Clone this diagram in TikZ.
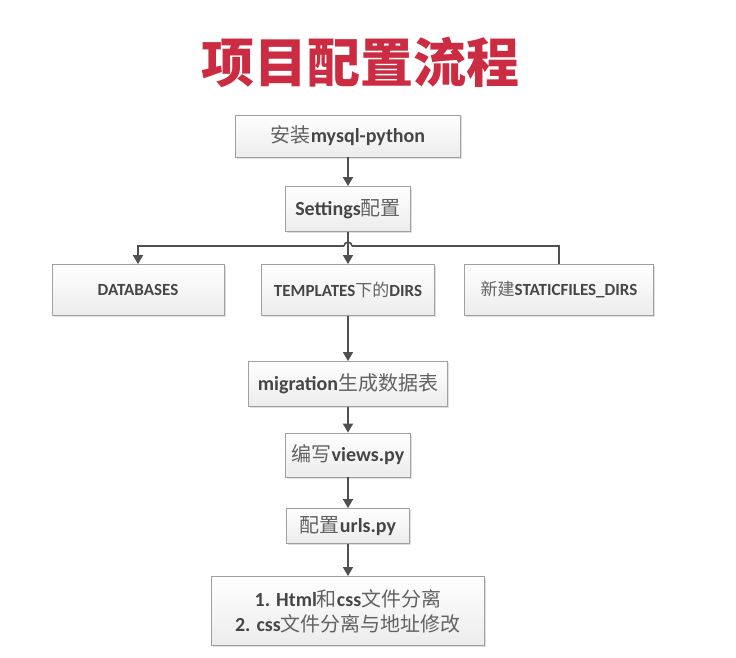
\documentclass[tikz,border=0pt]{standalone}
\usepackage{fontspec}
\setmainfont{Carlito}
\newfontfamily\cjk{Noto Sans CJK SC}
\usetikzlibrary{arrows.meta,shadows}
\definecolor{titlered}{RGB}{204,44,66}
\definecolor{boxgray}{RGB}{160,160,160}
\definecolor{textgray}{RGB}{70,70,70}
\definecolor{linegray}{RGB}{80,80,80}
\newcommand{\zh}[1]{{\cjk\mdseries\color{textgray!85} #1}}

\begin{document}
\begin{tikzpicture}[x=1pt,y=-1pt]

\tikzset{
box/.style={rectangle,inner sep=0pt,draw=boxgray,line width=0.8pt,top color=white,bottom color=gray!15,drop shadow={shadow xshift=1.5pt,shadow yshift=-1.5pt,opacity=0.25},font=\fontsize{20}{25}\selectfont\bfseries,text=textgray},
rowbox/.style={box,minimum height=51pt,font=\fontsize{17}{20}\selectfont\bfseries},
line/.style={draw=linegray,line width=1.6pt},
>={Triangle[length=9pt,width=10pt]}
}

\useasboundingbox (0,0) rectangle (736,658);

\node[font=\cjk\bfseries\fontsize{53}{56}\selectfont,text=titlered] (title) at (360,62) {项目配置流程};

\node[box,minimum width=225pt,minimum height=42pt] (install) at (348,136) {\zh{安装}mysql-python};
\node[box,minimum width=125pt,minimum height=45pt] (settings) at (348,209) {Settings\zh{配置}};
\node[rowbox,minimum width=172pt] (databases) at (138,290) {DATABASES};
\node[rowbox,minimum width=173pt] (templates) at (348,290) {TEMPLATES\zh{下的}DIRS};
\node[rowbox,minimum width=189pt] (static) at (559,290) {\zh{新建}STATICFILES\_DIRS};
\node[box,minimum width=199pt,minimum height=45pt] (migration) at (348,384) {migration\zh{生成数据表}};
\node[box,minimum width=125pt,minimum height=44pt] (views) at (348,455) {\zh{编写}views.py};
\node[box,minimum width=123pt,minimum height=35pt] (urls) at (348,526) {\zh{配置}urls.py};
\node[box,minimum width=273pt,minimum height=69pt,align=center] (final) at (348,611) {1. Html\zh{和}css\zh{文件分离}\\2. css\zh{文件分离与地址修改}};

\coordinate (bus) at (348,246);

\draw[line,->] (install)--(settings);
\draw[line,->] ([xshift=-4pt]bus)--(databases |- bus)--(databases.north);
\draw[line] ([xshift=-4pt]bus) .. controls ([xshift=-4pt,yshift=5pt]bus) and ([xshift=4pt,yshift=5pt]bus) .. ([xshift=4pt]bus);
\draw[line] ([xshift=4pt]bus)--(static |- bus)--(static.north);
\draw[line,->] (settings)--(templates);
\draw[line,->] (templates)--(migration);
\draw[line,->] (migration)--(views);
\draw[line,->] (views)--(urls);
\draw[line,->] (urls)--(final);

\end{tikzpicture}
\end{document}
